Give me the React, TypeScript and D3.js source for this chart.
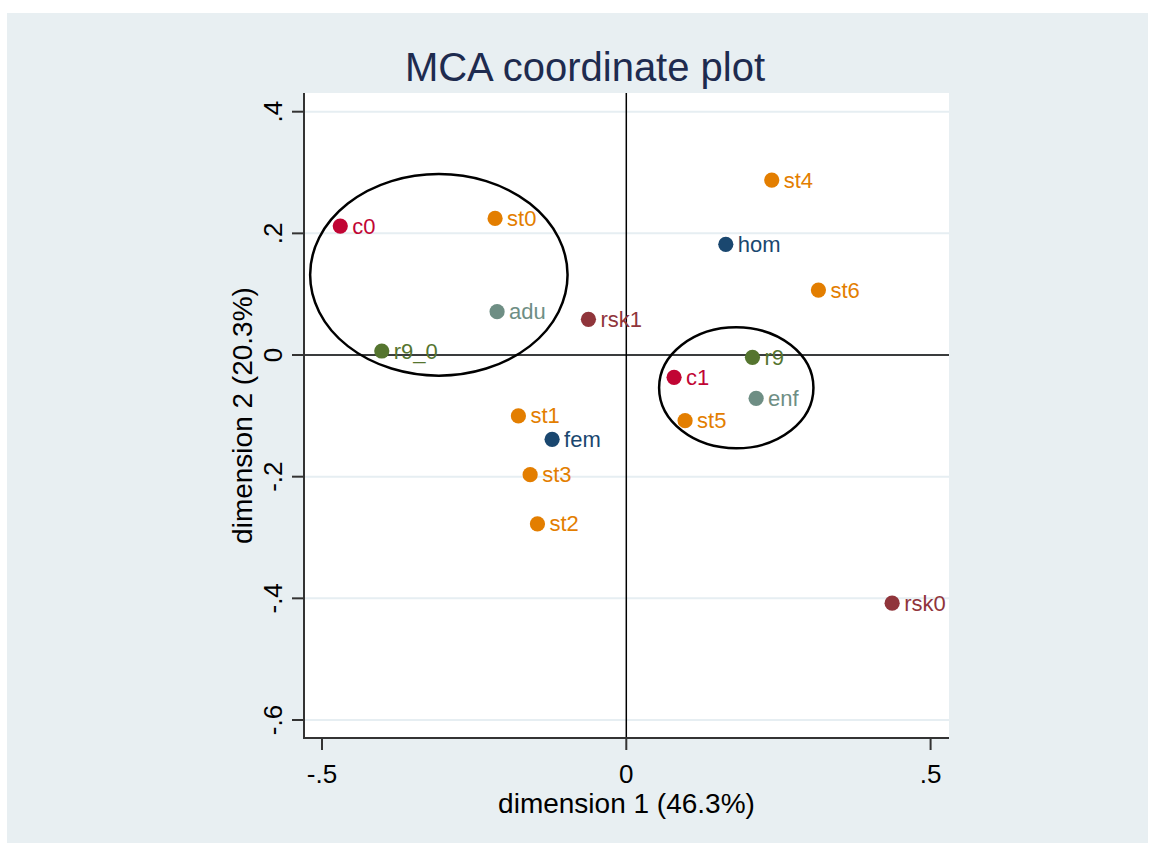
import React from "react";
import * as d3 from "d3";

const categories = ["c0", "st0", "adu", "rsk1", "r9_0", "st4", "hom", "st6", "r9", "c1", "enf", "st5", "st1", "fem", "st3", "st2", "rsk0"];
const dim1 = [-0.470, -0.2156, -0.2123, -0.0622, -0.4018, 0.239, 0.1635, 0.3157, 0.2073, 0.0785, 0.2133, 0.0966, -0.1773, -0.1219, -0.158, -0.146, 0.4368];
const dim2 = [0.212, 0.2246, 0.0712, 0.0586, 0.0066, 0.2876, 0.182, 0.1068, -0.0038, -0.0367, -0.0712, -0.108, -0.1002, -0.1386, -0.1967, -0.2777, -0.408];
const variable = ["c", "st", "age", "rsk", "r9", "st", "sex", "st", "r9", "c", "age", "st", "st", "sex", "st", "st", "rsk"];
const variableNames = ["sex", "rsk", "r9", "st", "age", "c"];
const variableColors = ["#1a476f", "#90353b", "#55752f", "#e37e00", "#6e8e84", "#c10534"];

const xTicks = [-0.5, 0, 0.5];
const xTickLabels = ["-.5", "0", ".5"];
const yTicks = [0.4, 0.2, 0, -0.2, -0.4, -0.6];
const yTickLabels = [".4", ".2", "0", "-.2", "-.4", "-.6"];

// ellipses: center x, center y, radius x, radius y (data units)
const ellipseCx = [-0.308, 0.1807];
const ellipseCy = [0.1318, -0.0539];
const ellipseRx = [0.2115, 0.1268];
const ellipseRy = [0.1657, 0.0994];

const W = 1149;
const H = 843;
const plot = { left: 304, right: 949, top: 93, bottom: 738 };
const FONT = "Arial, 'Liberation Sans', Helvetica, sans-serif";

export default function App() {
  const x = d3.scaleLinear().domain([-0.5, 0.5]).range([322, 930.6]);
  const y = d3.scaleLinear().domain([0.4, -0.6]).range([111.7, 720]);
  const color = d3.scaleOrdinal<string, string>().domain(variableNames).range(variableColors);

  return (
    <svg width={W} height={H} style={{ position: "absolute", left: 0, top: 0, background: "#ffffff" }} fontFamily={FONT}>
      <rect x={7} y={13} width={1141} height={H - 13} fill="#e8eff2" />
      <rect x={plot.left} y={plot.top} width={plot.right - plot.left} height={plot.bottom - plot.top} fill="#ffffff" />
      {yTicks.map((t) => (
        <line key={"g" + t} x1={plot.left} x2={plot.right} y1={y(t)} y2={y(t)} stroke="#e6eef2" strokeWidth={2} />
      ))}
      <line x1={x(0)} x2={x(0)} y1={plot.top} y2={plot.bottom} stroke="#000" strokeWidth={1.5} />
      <line x1={plot.left} x2={plot.right} y1={y(0)} y2={y(0)} stroke="#000" strokeWidth={1.5} />
      {ellipseCx.map((cx, i) => (
        <ellipse
          key={"e" + i}
          cx={x(cx)}
          cy={y(ellipseCy[i])}
          rx={x(ellipseRx[i]) - x(0)}
          ry={y(0) - y(ellipseRy[i])}
          fill="none"
          stroke="#000"
          strokeWidth={2.5}
        />
      ))}
      {categories.map((c, i) => (
        <g key={c}>
          <circle cx={x(dim1[i])} cy={y(dim2[i])} r={7.6} fill={color(variable[i])} />
          <text x={x(dim1[i]) + 12} y={y(dim2[i]) + 7.5} fontSize={22} fill={color(variable[i])}>
            {c}
          </text>
        </g>
      ))}
      {/* axes */}
      <line x1={plot.left} x2={plot.left} y1={plot.top} y2={plot.bottom + 1} stroke="#333" strokeWidth={2} />
      <line x1={plot.left - 1} x2={plot.right} y1={plot.bottom} y2={plot.bottom} stroke="#333" strokeWidth={2} />
      {yTicks.map((t, i) => (
        <g key={"yt" + t}>
          <line x1={plot.left - 12} x2={plot.left} y1={y(t)} y2={y(t)} stroke="#333" strokeWidth={2} />
          <text transform={`translate(282,${y(t)}) rotate(-90)`} textAnchor="middle" fontSize={26} fill="#000">
            {yTickLabels[i]}
          </text>
        </g>
      ))}
      {xTicks.map((t, i) => (
        <g key={"xt" + t}>
          <line x1={x(t)} x2={x(t)} y1={plot.bottom} y2={plot.bottom + 12} stroke="#333" strokeWidth={2} />
          <text x={x(t)} y={783} textAnchor="middle" fontSize={26} fill="#000">
            {xTickLabels[i]}
          </text>
        </g>
      ))}
      <text x={(plot.left + plot.right) / 2} y={812.5} textAnchor="middle" fontSize={28} fill="#000">
        dimension 1 (46.3%)
      </text>
      <text transform={`translate(252,${(plot.top + plot.bottom) / 2}) rotate(-90)`} textAnchor="middle" fontSize={28} fill="#000">
        dimension 2 (20.3%)
      </text>
      <text x={585} y={81} textAnchor="middle" fontSize={40} fill="#1e2b4f">
        MCA coordinate plot
      </text>
    </svg>
  );
}
